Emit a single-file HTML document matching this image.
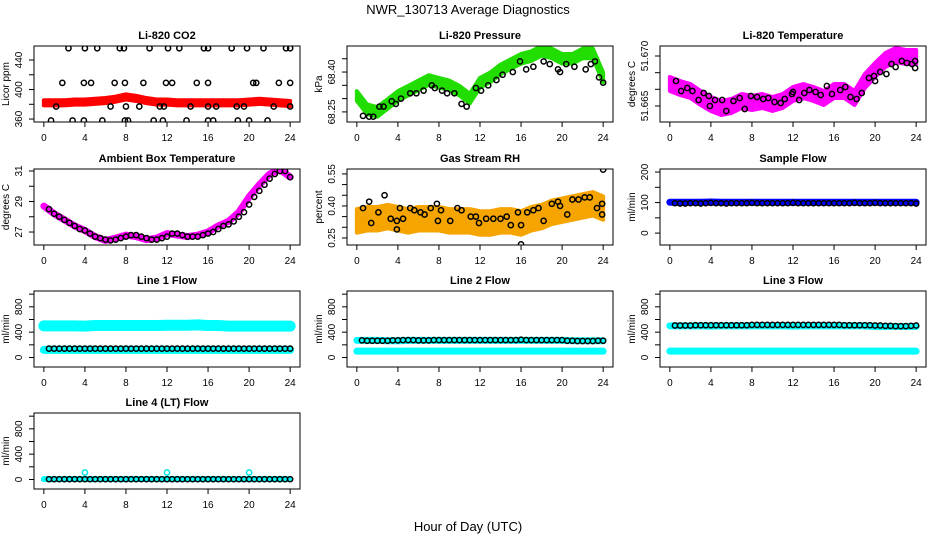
<!DOCTYPE html>
<html><head><meta charset="utf-8"><style>
html,body{margin:0;padding:0;background:#fff;}
svg{display:block;font-family:"Liberation Sans",sans-serif;}
</style></head><body>
<svg id="chart" width="936" height="540" viewBox="0 0 936 540">
<text x="468" y="14" text-anchor="middle" font-size="13">NWR_130713  Average Diagnostics</text>
<text x="468" y="531" text-anchor="middle" font-size="13">Hour of Day (UTC)</text>
</svg>
<script>
// ---------- data ----------
const HRS = [0,1,2,3,4,5,6,7,8,9,10,11,12,13,14,15,16,17,18,19,20,21,22,23,24];
const HH = [0.5,1,1.5,2,2.5,3,3.5,4,4.5,5,5.5,6,6.5,7,7.5,8,8.5,9,9.5,10,10.5,11,11.5,12,12.5,13,13.5,14,14.5,15,15.5,16,16.5,17,17.5,18,18.5,19,19.5,20,20.5,21,21.5,22,22.5,23,23.5,24];

const co2Band = [382,382,382,383,383,384,385,387,390,388,385,383,383,382,382,382,382,382,382,382,383,384,383,382,381];
const co2Hours = [2.4,4.0,5.2,7.4,7.8,10.3,12.1,13.2,15.6,16.0,18.3,19.8,21.4,23.6,24.0, 1.8,3.9,4.6,6.9,7.9,9.7,11.9,12.5,14.9,16.0,20.4,20.7,22.9,24.0, 1.2,6.5,8.0,9.3,11.3,11.7,14.3,16.0,16.8,18.8,19.5,22.4,24.0, 0.7,2.8,3.9,5.7,7.9,8.2,10.7,11.6,13.9,16.0,16.5,18.9,20.0,21.8,24.0];
const co2Vals = [456,456,456,456,456,456,456,456,456,456,456,456,456,456,456, 409,409,409,409,409,409,409,409,409,409,409,409,409,409, 377,377,377,377,377,377,377,377,377,377,377,377,377, 358,358,358,358,358,358,358,358,358,358,358,358,358,358];

const presBand = [68.31,68.26,68.25,68.28,68.31,68.33,68.35,68.37,68.36,68.35,68.33,68.30,68.36,68.38,68.41,68.43,68.45,68.46,68.48,68.47,68.45,68.45,68.47,68.47,68.38];
const presHours = [0.6,1.2,1.6,2.2,2.6,3.4,3.8,4.3,5.2,5.8,6.5,7.3,7.6,8.3,8.8,9.5,10.2,10.7,11.6,12.1,12.8,13.6,14.2,15.2,15.9,16.5,17.2,18.2,18.8,19.6,19.8,20.4,21.2,22.3,22.8,23.2,23.6,24.0];
const presVals = [68.235,68.232,68.232,68.27,68.27,68.29,68.28,68.30,68.32,68.32,68.33,68.35,68.34,68.33,68.32,68.32,68.28,68.27,68.34,68.33,68.35,68.37,68.39,68.40,68.44,68.41,68.42,68.44,68.43,68.41,68.40,68.43,68.42,68.41,68.43,68.44,68.38,68.36];

const tempBand = [51.6672,51.6668,51.6665,51.6658,51.6652,51.6648,51.6650,51.6655,51.6653,51.6655,51.6652,51.6655,51.6662,51.6665,51.6662,51.6658,51.6665,51.6665,51.6658,51.6675,51.6686,51.6696,51.6701,51.6699,51.6699];
const tempHours = [0.6,1.1,1.7,2.2,2.8,3.3,3.8,3.9,4.4,5.1,5.5,6.2,6.8,7.3,7.9,8.5,9.1,9.6,10.2,10.8,11.2,11.9,12.0,12.6,13.1,13.6,14.2,14.7,15.3,15.8,16.6,17.1,17.6,18.2,18.7,19.4,19.9,20.0,20.5,21.1,21.6,22.0,22.6,23.1,23.6,23.9,23.9];
const tempVals = [51.6675,51.6665,51.6668,51.6665,51.6656,51.6663,51.6660,51.6650,51.6656,51.6656,51.6645,51.6655,51.6658,51.6647,51.6660,51.6659,51.6657,51.6658,51.6654,51.6653,51.6657,51.6662,51.6664,51.6656,51.6663,51.6666,51.6664,51.6661,51.6670,51.6662,51.6666,51.6669,51.6659,51.6657,51.6663,51.6678,51.6680,51.6675,51.6684,51.6682,51.6692,51.6689,51.6695,51.6693,51.6692,51.6695,51.6688];

const ambBand = [28.7,28.2,27.8,27.4,27.1,26.7,26.45,26.6,26.8,26.7,26.5,26.6,26.9,26.8,26.7,26.8,27.0,27.4,27.7,28.3,29.3,30.1,30.8,31.1,30.6];
const ambVals = [28.5,28.2,28.0,27.8,27.6,27.4,27.2,27.1,26.9,26.7,26.6,26.5,26.45,26.5,26.6,26.7,26.8,26.8,26.7,26.6,26.5,26.5,26.6,26.7,26.9,26.9,26.8,26.7,26.7,26.7,26.8,26.9,27.0,27.2,27.4,27.5,27.7,28.0,28.3,28.8,29.3,29.7,30.1,30.5,30.8,31.0,31.0,30.6];

const rhBand = [0.33,0.34,0.34,0.35,0.34,0.33,0.34,0.34,0.34,0.33,0.33,0.33,0.32,0.32,0.33,0.33,0.32,0.34,0.35,0.37,0.38,0.39,0.40,0.41,0.39];
const rhHours = [0.6,1.2,1.4,2.1,2.7,3.3,3.9,3.9,4.2,4.5,5.2,5.6,6.2,6.6,7.2,7.8,7.9,8.2,9.1,9.8,10.2,11.1,11.6,11.9,12.6,13.3,14.0,14.6,15.0,15.7,16.0,16.0,16.6,17.2,17.7,18.2,19.0,19.6,19.8,20.5,21.0,21.6,22.2,22.7,23.4,23.9,23.9,24.0];
const rhVals = [0.39,0.42,0.32,0.37,0.45,0.34,0.33,0.29,0.39,0.34,0.39,0.38,0.37,0.36,0.39,0.41,0.33,0.38,0.33,0.39,0.38,0.35,0.35,0.32,0.34,0.34,0.34,0.35,0.31,0.37,0.31,0.22,0.37,0.38,0.39,0.33,0.41,0.42,0.40,0.36,0.43,0.43,0.44,0.44,0.39,0.41,0.36,0.57];

const sfBand = [101,101,101,101,102,101,101,101,101,101,101,101,101,101,101,101,101,101,101,101,101,101,101,101,101];
const sfVals = [98,97,97,98,98,97,98,99,98,98,97,98,98,98,98,99,98,98,98,98,98,98,98,99,98,98,98,98,98,98,98,98,98,98,98,99,98,98,98,99,98,98,98,98,98,98,98,97];

const l1Upper = [500,500,500,500,495,505,505,505,505,505,505,505,510,510,510,515,505,505,495,495,495,495,495,495,495];
const l1Lower = [120,120,120,120,120,120,120,120,120,120,120,120,120,120,120,120,120,120,120,120,120,120,120,120,120];
const l1Vals = [140,140,140,140,140,140,140,140,140,140,140,140,140,140,140,140,140,140,140,140,140,140,140,140,140,140,140,140,140,140,140,140,140,140,140,140,140,140,140,140,140,140,140,140,140,140,140,140];

const l2Upper = [270,270,270,265,265,270,270,270,270,270,270,270,270,270,270,270,270,270,270,270,270,265,265,265,265];
const l2Lower = [100,100,100,100,100,100,100,100,100,100,100,100,100,100,100,100,100,100,100,100,100,100,100,100,100];
const l2Vals = [270,265,265,265,265,265,270,270,275,275,275,270,270,270,275,275,275,275,275,275,275,275,275,275,275,275,275,275,275,275,275,280,275,275,275,275,275,275,275,275,265,265,260,260,260,260,265,265];

const l3Upper = [500,500,500,500,495,500,500,500,500,500,500,500,495,500,500,500,500,500,500,500,490,490,490,490,490];
const l3Lower = [100,100,100,100,100,100,100,100,100,100,100,100,100,100,100,100,100,100,100,100,100,100,100,100,100];
const l3Vals = [505,505,505,505,510,510,510,510,510,510,510,510,510,510,510,515,515,515,515,515,515,515,515,515,515,515,515,515,515,515,515,515,515,510,510,510,510,510,510,505,505,500,500,495,495,495,500,505];

const l4Band = [5,5,5,5,5,5,5,5,5,5,5,5,5,5,5,5,5,5,5,5,5,5,5,5,5];
const l4BlipHours = [4,12,20];
const l4BlipVals = [110,110,110];
const l4Vals = [5,5,5,5,5,5,5,5,5,5,5,5,5,5,5,5,5,5,5,5,5,5,5,5,5,5,5,5,5,5,5,5,5,5,5,5,5,5,5,5,5,5,5,5,5,5,5,5];

const xTicks = [0,4,8,12,16,20,24];
const flowTicks = [0,200,400,600,800,1000];
const flowTickLabels = ["0","","400","","800",""];

// ---------- rendering ----------
const NS = "http://www.w3.org/2000/svg";
const svg = document.getElementById("chart");
function mk(tag, attrs, parent){
  const e = document.createElementNS(NS, tag);
  for (const k in attrs) e.setAttribute(k, attrs[k]);
  (parent||svg).appendChild(e);
  return e;
}
const COLS = [34,347,660], ROWS = [46,169,291,413], W = 266, H = 76;
const XLIM = [-0.96, 24.96];

function panel(name, col, row, title, ytitle, ylim, yticks, ylabels){
  const bx = COLS[col], by = ROWS[row];
  const g = mk("g", {});
  
  
  const sx = v => bx + (v - XLIM[0]) / (XLIM[1] - XLIM[0]) * W;
  const sy = v => by + H - (v - ylim[0]) / (ylim[1] - ylim[0]) * H;
  const t = mk("text", {x: bx + W/2, y: by - 7, "text-anchor":"middle", "font-size":"11", "font-weight":"bold"}, g);
  
  
  t.textContent = title;
  const yt = mk("text", {x: 0, y: 0, "text-anchor":"middle", "font-size":"10", transform:`translate(${bx-25},${by+H/2}) rotate(-90)`}, g);
  
  
  yt.textContent = ytitle;
  const xa = mk("g", {}, g);
  
  
  mk("line", {x1: sx(0), x2: sx(24), y1: by+H, y2: by+H, stroke:"#000"}, xa);
  xTicks.forEach(v => {
    mk("line", {x1: sx(v), x2: sx(v), y1: by+H, y2: by+H+5, stroke:"#000"}, xa);
    const l = mk("text", {x: sx(v), y: by+H+19, "text-anchor":"middle", "font-size":"10"}, xa);
    
    
    l.textContent = v;
  });
  const ya = mk("g", {}, g);
  
  
  mk("line", {x1: bx, x2: bx, y1: sy(yticks[0]), y2: sy(yticks[yticks.length-1]), stroke:"#000"}, ya);
  yticks.forEach((v, i) => {
    mk("line", {x1: bx-5, x2: bx, y1: sy(v), y2: sy(v), stroke:"#000"}, ya);
    if (ylabels[i]) {
      const l = mk("text", {x:0, y:0, "text-anchor":"middle", "font-size":"10", transform:`translate(${bx-12},${sy(v)}) rotate(-90)`}, ya);
      
      
      l.textContent = ylabels[i];
    }
  });
  const clip = "clip-" + name;
  const cp = mk("clipPath", {id: clip}, g);
  mk("rect", {x: bx, y: by, width: W, height: H}, cp);
  const plot = mk("g", {"clip-path": `url(#${clip})`}, g);
  const box = mk("rect", {x: bx, y: by, width: W, height: H, fill:"none", stroke:"#000"}, g);
  
  
  return {sx, sy, plot};
}
function band(p, name, xs, ys, half, color){
  const top = xs.map((x,i)=>`${p.sx(x)},${p.sy(ys[i]+half)}`);
  const bot = xs.map((x,i)=>`${p.sx(x)},${p.sy(ys[i]-half)}`).reverse();
  const e = mk("polygon", {points: top.concat(bot).join(" "), fill: color, stroke: color, "stroke-width": 4, "stroke-linejoin":"round"}, p.plot);
  
  
}
function thick(p, name, xs, ys, color, w){
  const e = mk("polyline", {points: xs.map((x,i)=>`${p.sx(x)},${p.sy(ys[i])}`).join(" "), fill:"none", stroke: color, "stroke-width": w, "stroke-linecap":"round", "stroke-linejoin":"round"}, p.plot);
  
  
}
function circles(p, name, xs, ys, color){
  const g = mk("g", {}, p.plot);
  
  
  xs.forEach((x,i)=>{
    const c = mk("circle", {cx: p.sx(x), cy: p.sy(ys[i]), r: 2.6, fill:"none", stroke: color || "#000", "stroke-width": 1.5}, g);
    
    
  });
}

let p = panel("co2", 0, 0, "Li-820 CO2", "Licor ppm", [356,459], [360,380,400,420,440], ["360","","400","","440"]);
band(p, "co2-series", HRS, co2Band, 3.5, "#ff0000");
circles(p, "co2-black-points", co2Hours, co2Vals);
p = panel("pressure", 1, 0, "Li-820 Pressure", "kPa", [68.212,68.498], [68.25,68.30,68.35,68.40,68.45], ["68.25","","","68.40",""]);
band(p, "pressure-series", HRS, presBand, 0.018, "#22dd00");
circles(p, "pressure-black-points", presHours, presVals);
p = panel("temperature", 2, 0, "Li-820 Temperature", "degrees C", [51.6634,51.6710], [51.665,51.66667,51.66833,51.670], ["51.665","","","51.670"]);
band(p, "temperature-series", HRS, tempBand, 0.0007, "#ff00ff");
circles(p, "temperature-black-points", tempHours, tempVals);
p = panel("ambient", 0, 1, "Ambient Box Temperature", "degrees C", [26.15,31.13], [27,28,29,30,31], ["27","","29","","31"]);
thick(p, "ambient-series", HRS, ambBand, "#ff00ff", 7);
circles(p, "ambient-black-points", HH, ambVals);
p = panel("rh", 1, 1, "Gas Stream RH", "percent", [0.217,0.573], [0.25,0.30,0.35,0.40,0.45,0.50,0.55], ["0.25","","","0.40","","","0.55"]);
band(p, "rh-series", HRS, rhBand, 0.055, "#f5a400");
circles(p, "rh-black-points", rhHours, rhVals);
p = panel("sample-flow", 2, 1, "Sample Flow", "ml/min", [-39,210], [0,50,100,150,200], ["0","","100","","200"]);
thick(p, "sample-flow-series", HRS, sfBand, "#0000ff", 7);
circles(p, "sample-flow-black-points", HH, sfVals, "#000");
p = panel("line1-flow", 0, 2, "Line 1 Flow", "ml/min", [-150,1050], flowTicks, flowTickLabels);
thick(p, "line1-upper-series", HRS, l1Upper, "#00ffff", 11);
thick(p, "line1-lower-series", HRS, l1Lower, "#00ffff", 8);
circles(p, "line1-black-points", HH, l1Vals);
p = panel("line2-flow", 1, 2, "Line 2 Flow", "ml/min", [-150,1050], flowTicks, flowTickLabels);
thick(p, "line2-upper-series", HRS, l2Upper, "#00ffff", 7);
thick(p, "line2-lower-series", HRS, l2Lower, "#00ffff", 7);
circles(p, "line2-black-points", HH, l2Vals);
p = panel("line3-flow", 2, 2, "Line 3 Flow", "ml/min", [-150,1050], flowTicks, flowTickLabels);
thick(p, "line3-upper-series", HRS, l3Upper, "#00ffff", 7);
thick(p, "line3-lower-series", HRS, l3Lower, "#00ffff", 7);
circles(p, "line3-black-points", HH, l3Vals);
p = panel("line4-flow", 0, 3, "Line 4 (LT) Flow", "ml/min", [-150,1050], flowTicks, flowTickLabels);
thick(p, "line4-series", HRS, l4Band, "#00ffff", 6);
circles(p, "line4-cyan-blips", l4BlipHours, l4BlipVals, "#00e5e5");
circles(p, "line4-black-points", HH, l4Vals);
</script>
</body></html>
